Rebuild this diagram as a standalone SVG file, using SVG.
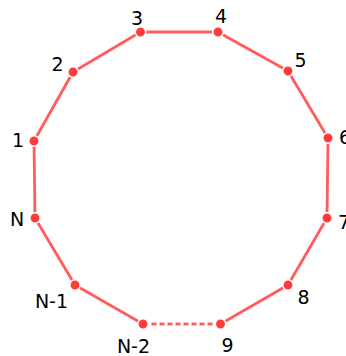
<svg xmlns="http://www.w3.org/2000/svg" width="346" height="356" viewBox="0 0 346 356">
<style>
.edge{stroke:#ff5c5c;stroke-width:2.8;fill:none;stroke-linecap:butt}
.dash{stroke-dasharray:5,3}
.dot{fill:#ff3b3b;stroke:#ffffff;stroke-width:1.5}
.lbl{font-family:"DejaVu Sans",sans-serif;font-size:19px;fill:#000;text-anchor:middle}
</style>
<rect width="346" height="356" fill="#ffffff"/>
<g id="connectors">
<line class="edge" x1="34" y1="141" x2="73" y2="72"/>
<line class="edge" x1="73" y1="72" x2="140.5" y2="32"/>
<line class="edge" x1="140.5" y1="32" x2="218" y2="32"/>
<line class="edge" x1="218" y1="32" x2="288" y2="71"/>
<line class="edge" x1="288" y1="71" x2="328" y2="138"/>
<line class="edge" x1="328" y1="138" x2="327" y2="218"/>
<line class="edge" x1="327" y1="218" x2="288" y2="285"/>
<line class="edge" x1="288" y1="285" x2="220.5" y2="324"/>
<line class="edge dash" x1="220.5" y1="324" x2="143" y2="324"/>
<line class="edge" x1="143" y1="324" x2="75" y2="285"/>
<line class="edge" x1="75" y1="285" x2="35" y2="218"/>
<line class="edge" x1="35" y1="218" x2="34" y2="141"/>
</g>
<g id="node-1"><circle class="dot" cx="34" cy="141" r="5.2"/><text class="lbl" x="18" y="147">1</text></g>
<g id="node-2"><circle class="dot" cx="73" cy="72" r="5.2"/><text class="lbl" x="57.5" y="71">2</text></g>
<g id="node-3"><circle class="dot" cx="140.5" cy="32" r="5.2"/><text class="lbl" x="137" y="25">3</text></g>
<g id="node-4"><circle class="dot" cx="218" cy="32" r="5.2"/><text class="lbl" x="221" y="23">4</text></g>
<g id="node-5"><circle class="dot" cx="288" cy="71" r="5.2"/><text class="lbl" x="300.5" y="67">5</text></g>
<g id="node-6"><circle class="dot" cx="328" cy="138" r="5.2"/><text class="lbl" x="345" y="144">6</text></g>
<g id="node-7"><circle class="dot" cx="327" cy="218" r="5.2"/><text class="lbl" x="344" y="229">7</text></g>
<g id="node-8"><circle class="dot" cx="288" cy="285" r="5.2"/><text class="lbl" x="303.5" y="304">8</text></g>
<g id="node-9"><circle class="dot" cx="220.5" cy="324" r="5.2"/><text class="lbl" x="227.5" y="352">9</text></g>
<g id="node-N-2"><circle class="dot" cx="143" cy="324" r="5.2"/><text class="lbl" x="133.5" y="353">N-2</text></g>
<g id="node-N-1"><circle class="dot" cx="75" cy="285" r="5.2"/><text class="lbl" x="51.5" y="308">N-1</text></g>
<g id="node-N"><circle class="dot" cx="35" cy="218" r="5.2"/><text class="lbl" x="17" y="226">N</text></g>
</svg>
